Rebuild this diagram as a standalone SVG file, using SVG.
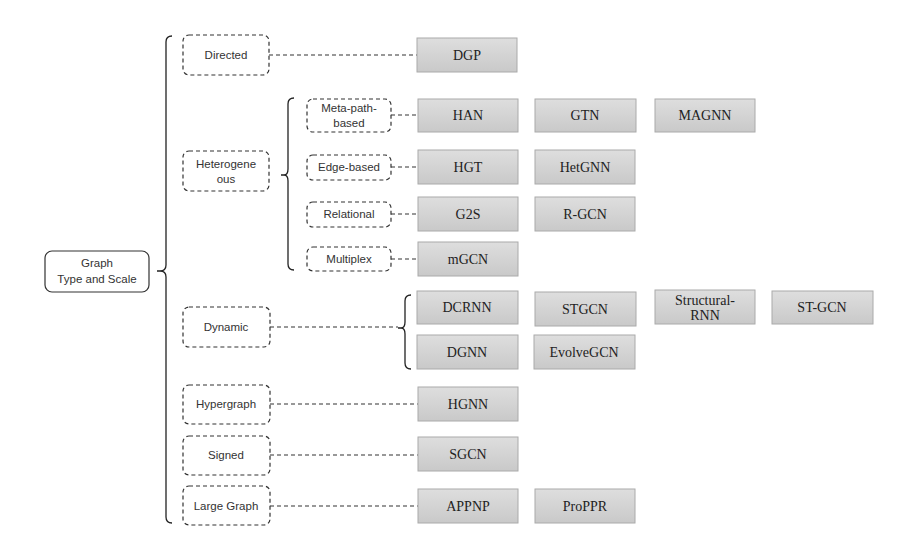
<svg xmlns="http://www.w3.org/2000/svg" width="918" height="545" viewBox="0 0 918 545">
<defs>
<linearGradient id="g" x1="0" y1="0" x2="0" y2="1"><stop offset="0" stop-color="#dedede"/><stop offset="1" stop-color="#c9c9c9"/></linearGradient>
<style>
.cat{fill:#fff;stroke:#333;stroke-width:1.2;stroke-dasharray:4,3}
.box{fill:url(#g);stroke:#aaa;stroke-width:1}
.st{font-family:"Liberation Sans","DejaVu Sans",sans-serif;font-size:11.5px;fill:#333;text-anchor:middle}
.bt{font-family:"Liberation Serif","Times New Roman",serif;font-size:14px;fill:#222;text-anchor:middle}
.dl{stroke:#333;stroke-width:1.2;stroke-dasharray:4,3;fill:none}
.br{stroke:#222;stroke-width:1.3;fill:none}
</style>
</defs>
<rect width="918" height="545" fill="#fff"/>
<g id="root">
<rect x="45" y="251" width="104" height="41" rx="7" fill="#fff" stroke="#333" stroke-width="1.2"/>
<text class="st" x="97" y="267">Graph</text>
<text class="st" x="97" y="283">Type and Scale</text>
</g>
<g id="connectors">
<path class="br" d="M172,36 Q166,36 166,42 L166,265 Q166,271 160,271 L157,271 L160,271 Q166,271 166,277 L166,517 Q166,523 172,523"/>
<path class="br" d="M294,98 Q288,98 288,104 L288,169 Q288,175 284,175 L281,175 L284,175 Q288,175 288,181 L288,264 Q288,270 294,270"/>
<path class="br" d="M411,295 Q405,295 405,301 L405,322 Q405,328 401,328 L398,328 L401,328 Q405,328 405,334 L405,363 Q405,369 411,369"/>
<path class="dl" d="M269,55 H417"/>
<path class="dl" d="M391,115 H418"/>
<path class="dl" d="M391,167 H418"/>
<path class="dl" d="M391,214 H418"/>
<path class="dl" d="M391,259 H418"/>
<path class="dl" d="M270,327 H398"/>
<path class="dl" d="M270,404 H418"/>
<path class="dl" d="M270,455 H418"/>
<path class="dl" d="M270,506 H418"/>
</g>
<g id="directed"><rect class="cat" x="183" y="35" width="86" height="40" rx="6"/><text class="st" x="226" y="59">Directed</text></g>
<g id="heterogeneous"><rect class="cat" x="183" y="151" width="86" height="40" rx="6"/><text class="st" x="226" y="168">Heterogene</text><text class="st" x="226" y="183">ous</text></g>
<g id="dynamic"><rect class="cat" x="183" y="307" width="87" height="40" rx="6"/><text class="st" x="226" y="331">Dynamic</text></g>
<g id="hypergraph"><rect class="cat" x="183" y="385" width="87" height="39" rx="6"/><text class="st" x="226" y="408">Hypergraph</text></g>
<g id="signed"><rect class="cat" x="183" y="436" width="87" height="39" rx="6"/><text class="st" x="226" y="459">Signed</text></g>
<g id="large-graph"><rect class="cat" x="183" y="486" width="87" height="39" rx="6"/><text class="st" x="226" y="510">Large Graph</text></g>
<g id="meta-path"><rect class="cat" x="307" y="99" width="84" height="33" rx="6"/><text class="st" x="349" y="112">Meta-path-</text><text class="st" x="349" y="127">based</text></g>
<g id="edge-based"><rect class="cat" x="307" y="155" width="84" height="25" rx="6"/><text class="st" x="349" y="171">Edge-based</text></g>
<g id="relational"><rect class="cat" x="307" y="202" width="84" height="25" rx="6"/><text class="st" x="349" y="218">Relational</text></g>
<g id="multiplex"><rect class="cat" x="307" y="247" width="84" height="24" rx="6"/><text class="st" x="349" y="263">Multiplex</text></g>
<g id="DGP"><rect class="box" x="417" y="38" width="100" height="34"/><text class="bt" x="467" y="60">DGP</text></g>
<g id="HAN"><rect class="box" x="418" y="99" width="100" height="33"/><text class="bt" x="468" y="120">HAN</text></g>
<g id="GTN"><rect class="box" x="535" y="99" width="101" height="33"/><text class="bt" x="585" y="120">GTN</text></g>
<g id="MAGNN"><rect class="box" x="655" y="99" width="100" height="33"/><text class="bt" x="705" y="120">MAGNN</text></g>
<g id="HGT"><rect class="box" x="418" y="150" width="100" height="34"/><text class="bt" x="468" y="172">HGT</text></g>
<g id="HetGNN"><rect class="box" x="535" y="150" width="100" height="34"/><text class="bt" x="585" y="172">HetGNN</text></g>
<g id="G2S"><rect class="box" x="418" y="197" width="100" height="34"/><text class="bt" x="468" y="219">G2S</text></g>
<g id="R-GCN"><rect class="box" x="535" y="197" width="100" height="34"/><text class="bt" x="585" y="219">R-GCN</text></g>
<g id="mGCN"><rect class="box" x="418" y="242" width="100" height="34"/><text class="bt" x="468" y="264">mGCN</text></g>
<g id="DCRNN"><rect class="box" x="417" y="291" width="101" height="33"/><text class="bt" x="467" y="312">DCRNN</text></g>
<g id="STGCN"><rect class="box" x="535" y="292" width="101" height="34"/><text class="bt" x="585" y="314">STGCN</text></g>
<g id="Structural-RNN"><rect class="box" x="655" y="290" width="100" height="34"/><text class="bt" x="705" y="305">Structural-</text><text class="bt" x="705" y="320">RNN</text></g>
<g id="ST-GCN"><rect class="box" x="772" y="291" width="101" height="33"/><text class="bt" x="822" y="312">ST-GCN</text></g>
<g id="DGNN"><rect class="box" x="417" y="335" width="101" height="34"/><text class="bt" x="467" y="357">DGNN</text></g>
<g id="EvolveGCN"><rect class="box" x="534" y="335" width="101" height="34"/><text class="bt" x="584" y="357">EvolveGCN</text></g>
<g id="HGNN"><rect class="box" x="418" y="387" width="100" height="34"/><text class="bt" x="468" y="409">HGNN</text></g>
<g id="SGCN"><rect class="box" x="418" y="437" width="100" height="34"/><text class="bt" x="468" y="459">SGCN</text></g>
<g id="APPNP"><rect class="box" x="418" y="489" width="100" height="34"/><text class="bt" x="468" y="511">APPNP</text></g>
<g id="ProPPR"><rect class="box" x="535" y="489" width="100" height="34"/><text class="bt" x="585" y="511">ProPPR</text></g>
</svg>
